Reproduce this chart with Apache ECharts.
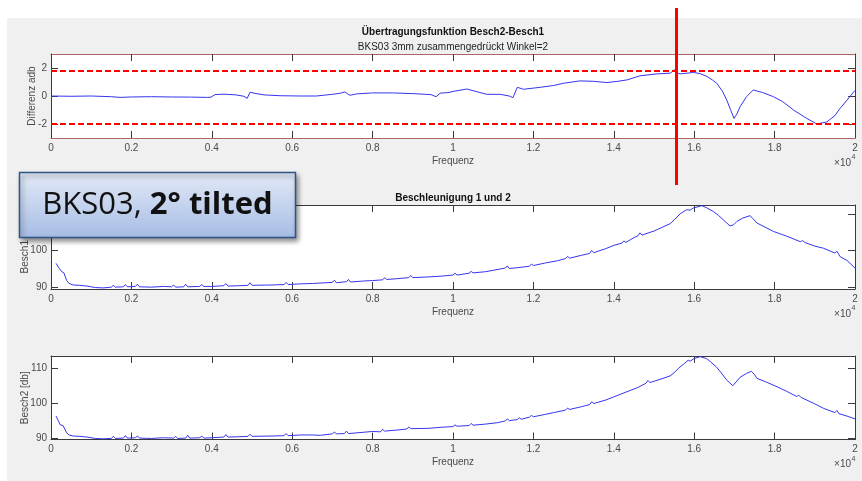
<!DOCTYPE html>
<html><head><meta charset="utf-8">
<script src="https://cdn.jsdelivr.net/npm/echarts@6/dist/echarts.min.js"></script>
<style>
html,body{margin:0;padding:0;background:#fff;}
#wrap{position:relative;width:862px;height:481px;overflow:hidden;}
#bg{position:absolute;left:7px;top:18px;width:855px;height:463px;background:#f0f0f0;}
#chart{position:absolute;left:0;top:0;width:862px;height:481px;}
</style></head><body>
<div id="wrap"><div id="bg"></div><div id="chart"></div></div>
<script>
// ---- tick labels ----
const xTickValues = [0,2000,4000,6000,8000,10000,12000,14000,16000,18000,20000];
const xTickLabels = ['0','0.2','0.4','0.6','0.8','1','1.2','1.4','1.6','1.8','2'];
const diffTicks = [-2,0,2];
const besch1Ticks = [90,100,110];
const besch2Ticks = [90,100,110];
// ---- reference lines ----
const limitLines = [1.8,-2];
const markerFreq = 15560;
// ---- series: [Frequenz, value] ----
const diffData = [[0,0.0],[500,-0.02],[1000,0.0],[1500,-0.05],[1720,-0.1],[2000,-0.07],[2500,-0.05],[3000,-0.07],[3500,-0.08],[3900,-0.1],[3980,-0.08],[4080,0.1],[4300,0.13],[4600,0.08],[4800,-0.02],[4880,-0.17],[4950,0.27],[5050,0.2],[5300,0.08],[5700,0.02],[6200,0.0],[6600,0.0],[7000,0.12],[7200,0.2],[7310,0.29],[7380,0.15],[7440,0.05],[7600,0.15],[8000,0.22],[8500,0.22],[9000,0.17],[9450,0.1],[9580,-0.05],[9680,0.2],[9900,0.25],[10000,0.33],[10350,0.5],[10600,0.3],[10840,0.12],[11170,0.12],[11400,0.0],[11490,-0.12],[11600,0.62],[11750,0.48],[12170,0.62],[12500,0.75],[12750,0.91],[13160,1.08],[13500,1.05],[13830,0.96],[14100,1.05],[14330,1.15],[14650,1.44],[15070,1.58],[15400,1.63],[15520,1.87],[15600,1.62],[15650,1.58],[15980,1.68],[16150,1.6],[16320,1.39],[16450,1.15],[16560,0.91],[16700,0.35],[16810,-0.29],[16900,-0.95],[16990,-1.6],[17060,-1.3],[17140,-0.77],[17300,-0.05],[17470,0.43],[17700,0.25],[17970,-0.05],[18200,-0.4],[18470,-1.0],[18800,-1.6],[19050,-2.0],[19300,-1.85],[19500,-1.4],[19630,-0.88],[19800,-0.3],[20000,0.4]];
const besch1Data = [[125,96.5],[200,95.2],[260,94.3],[320,93.9],[390,91.8],[450,91.0],[550,90.6],[700,90.5],[900,90.3],[1100,89.9],[1300,89.8],[1500,90.0],[1550,90.5],[1600,90.0],[1800,90.1],[1850,90.7],[1900,90.1],[2100,90.2],[2150,90.8],[2200,90.1],[2500,90.0],[2800,90.2],[3000,90.1],[3050,90.6],[3100,90.0],[3300,90.1],[3350,90.8],[3400,90.1],[3700,90.2],[3750,90.7],[3800,90.2],[4000,90.2],[4300,90.4],[4350,91.0],[4400,90.3],[4700,90.4],[4900,90.5],[4950,91.2],[5000,90.5],[5500,90.6],[5800,90.7],[5850,91.3],[5900,90.7],[6200,90.9],[6500,91.0],[7000,91.3],[7050,91.9],[7100,91.2],[7350,91.5],[7400,92.1],[7450,91.4],[7800,91.7],[8000,91.8],[8250,92.0],[8300,92.6],[8350,92.1],[8600,92.3],[8900,92.6],[8950,93.2],[9000,92.6],[9400,92.8],[9700,93.0],[10000,93.3],[10050,93.8],[10100,93.3],[10400,93.8],[10450,94.3],[10500,93.9],[10800,94.2],[11000,94.6],[11300,95.2],[11350,95.8],[11400,95.1],[11600,95.3],[11900,95.7],[11950,96.3],[12000,95.9],[12300,96.6],[12600,97.2],[12800,97.8],[12850,98.4],[12900,97.9],[13200,98.7],[13400,99.2],[13450,100.0],[13500,99.4],[13800,100.5],[14000,101.4],[14200,102.0],[14250,102.6],[14300,102.2],[14500,103.5],[14600,104.0],[14650,104.8],[14700,104.2],[15000,105.3],[15400,107.3],[15500,108.3],[15650,110.0],[15810,111.1],[15900,111.0],[15980,111.6],[16190,112.2],[16300,111.7],[16480,110.6],[16600,109.6],[16720,108.4],[16890,106.7],[16980,107.0],[17060,107.9],[17200,108.8],[17390,109.5],[17450,108.8],[17560,107.5],[17970,105.2],[18300,103.9],[18640,102.4],[18700,102.7],[18750,102.2],[19000,101.2],[19220,100.6],[19500,99.3],[19550,99.8],[19630,98.3],[19800,97.3],[20000,95.2]];
const besch2Data = [[125,96.3],[180,95.0],[230,93.8],[300,93.6],[330,93.4],[390,91.5],[450,90.9],[550,90.6],[700,90.5],[900,90.3],[1100,89.9],[1300,89.8],[1500,89.9],[1550,90.5],[1600,89.9],[1800,90.0],[1850,90.7],[1900,90.0],[2100,90.1],[2150,90.6],[2200,90.0],[2500,89.9],[2800,90.1],[3050,90.0],[3100,90.5],[3150,89.9],[3350,90.0],[3400,90.8],[3450,90.0],[3700,90.1],[3750,90.6],[3800,90.0],[4000,90.1],[4300,90.3],[4350,91.0],[4400,90.3],[4700,90.4],[4900,90.5],[4950,91.1],[5000,90.5],[5500,90.6],[5800,90.7],[5850,91.3],[5900,90.7],[6200,90.9],[6500,90.9],[6700,90.8],[7000,91.2],[7050,91.8],[7100,91.2],[7300,91.3],[7350,92.0],[7400,91.3],[7800,91.7],[8000,91.9],[8200,91.8],[8250,92.5],[8300,92.0],[8600,92.3],[8850,92.6],[8900,93.2],[8950,92.7],[9400,92.8],[9700,93.1],[10000,93.3],[10050,93.8],[10100,93.4],[10400,93.6],[10450,94.2],[10500,93.7],[10800,94.0],[11100,94.4],[11300,94.9],[11350,95.5],[11400,95.0],[11600,95.3],[11650,95.8],[11700,95.4],[11900,96.0],[11950,96.5],[12000,96.1],[12300,96.8],[12500,97.3],[12800,98.0],[12850,98.6],[12900,98.2],[13200,99.0],[13400,99.6],[13450,100.4],[13500,99.9],[13800,100.9],[14000,101.8],[14200,102.7],[14400,103.6],[14600,104.5],[14800,105.7],[14850,106.5],[14900,105.9],[15200,107.0],[15400,107.8],[15500,108.7],[15610,110.0],[15750,111.3],[15850,112.3],[15900,112.0],[16000,112.8],[16150,113.3],[16300,112.8],[16400,111.9],[16550,110.4],[16650,109.0],[16810,106.6],[16960,105.0],[17060,106.3],[17140,107.4],[17300,108.5],[17420,109.1],[17500,108.2],[17560,107.1],[17800,106.0],[18060,104.7],[18300,103.4],[18550,101.9],[18600,102.3],[18650,101.7],[19000,99.8],[19220,98.5],[19500,97.3],[19550,97.9],[19600,97.0],[19800,96.3],[20000,95.5]];

const FONT = '"Liberation Sans", Arial, Helvetica, sans-serif';
const AX = '#3a3a3a', LBL = '#4a4a4a', LINE = '#3535ee';
const grids = [
  {left:51, top:54, width:804, height:84},
  {left:51, top:205, width:804, height:84},
  {left:51, top:356, width:804, height:83.5}
];
function mkX(gi, pos, lineColor){
  const bottom = pos === 'bottom';
  return {type:'value', gridIndex:gi, position:pos, min:0, max:20000, interval:2000,
    axisLine:{show:true, onZero:false, lineStyle:{color:lineColor, width:1}},
    axisTick:{show:true, inside:true, length:7, lineStyle:{color:AX}},
    axisLabel: bottom ? {show:true, margin:5, color:LBL, fontSize:10, fontFamily:FONT,
      formatter: v => xTickLabels[xTickValues.indexOf(v)]} : {show:false},
    splitLine:{show:false},
    name: bottom ? 'Frequenz' : '', nameLocation:'middle', nameGap:18, nameMoveOverlap:false,
    nameTextStyle:{color:LBL, fontSize:10, fontFamily:FONT}};
}
function mkY(gi, pos, min, max, ticks, name, gap){
  const left = pos === 'left';
  return {type:'value', gridIndex:gi, position:pos, min:min, max:max,
    axisLine:{show:true, onZero:false, lineStyle:{color:AX, width:1}},
    axisTick:{show:true, inside:true, length:7, customValues:ticks, lineStyle:{color:AX}},
    axisLabel: left ? {show:true, margin:4, customValues:ticks, color:LBL, fontSize:10, fontFamily:FONT} : {show:false},
    splitLine:{show:false},
    name: left ? name : '', nameLocation:'middle', nameGap:gap, nameRotate:90, nameMoveOverlap:false,
    nameTextStyle:{color:LBL, fontSize:10, fontFamily:FONT}};
}
const chart = echarts.init(document.getElementById('chart'), null, {renderer:'canvas'});
chart.setOption({
  animation:false,
  backgroundColor:'transparent',
  grid: grids.map(g => Object.assign({show:true, backgroundColor:'#ffffff', borderWidth:0, containLabel:false}, g)),
  xAxis:[mkX(0,'bottom','#b06464'), mkX(0,'top','#b06464'), mkX(1,'bottom',AX), mkX(1,'top',AX), mkX(2,'bottom',AX), mkX(2,'top',AX)],
  yAxis:[mkY(0,'left',-3,3,diffTicks,'Differenz adb',13.5), mkY(0,'right',-3,3,diffTicks,'',0),
         mkY(1,'left',89.5,112.4,besch1Ticks,'Besch1 [db]',20.5), mkY(1,'right',89.5,112.4,besch1Ticks,'',0),
         mkY(2,'left',89.6,113.5,besch2Ticks,'Besch2 [db]',20.5), mkY(2,'right',89.6,113.5,besch2Ticks,'',0)],
  series:[
    {type:'line', xAxisIndex:0, yAxisIndex:0, data:diffData, showSymbol:false, symbol:'none',
     lineStyle:{color:LINE, width:1}, z:3,
     markLine:{silent:true, symbol:'none', label:{show:false}, animation:false,
       lineStyle:{color:'#ff0000', width:2, type:[6,3]},
       data: limitLines.map(v => ({yAxis:v}))}},
    {type:'line', xAxisIndex:2, yAxisIndex:2, data:besch1Data, showSymbol:false, symbol:'none',
     lineStyle:{color:LINE, width:1}},
    {type:'line', xAxisIndex:4, yAxisIndex:4, data:besch2Data, showSymbol:false, symbol:'none',
     lineStyle:{color:LINE, width:1}}
  ]
});
function txt(text, x, y, opt){
  return Object.assign({type:'text', x:x, y:y, z:60, silent:true,
    style:Object.assign({text:text, fill:'#1a1a1a', font:'10px '+FONT,
      align:'center', verticalAlign:'middle', textAlign:'center', textVerticalAlign:'middle'}, opt||{})});
}
const mx = chart.convertToPixel({xAxisIndex:0}, markerFreq);
const gfx = [];
gfx.push(txt('Übertragungsfunktion Besch2-Besch1', 453, 32, {font:'bold 10px '+FONT, fill:'#111'}));
gfx.push(txt('BKS03 3mm zusammengedrückt Winkel=2', 453, 47, {fill:'#222'}));
gfx.push(txt('Beschleunigung 1 und 2', 453, 198, {font:'bold 10px '+FONT, fill:'#111'}));
grids.forEach(g => {
  const by = g.top + g.height;
  gfx.push(txt('×10', 851, by + 25, {fill:LBL, align:'right', textAlign:'right'}));
  gfx.push(txt('4', 851.5, by + 19.5, {fill:LBL, font:'7px '+FONT, align:'left', textAlign:'left'}));
});
gfx.push({type:'line', z:80, silent:true, shape:{x1:mx, y1:8, x2:mx, y2:185}, style:{stroke:'#ff0000', lineWidth:3}});
gfx.push({type:'rect', z:90, silent:true, shape:{x:19.5, y:172.5, width:276, height:65},
  style:{fill:new echarts.graphic.LinearGradient(0,0,0,1,[{offset:0,color:'#e3eaf7'},{offset:1,color:'#a6bce4'}]),
    stroke:'#2f5487', lineWidth:1.5, shadowBlur:5, shadowOffsetX:2, shadowOffsetY:3, shadowColor:'rgba(0,0,0,0.45)'}});
gfx.push({type:'text', z:95, silent:true, x:157.5, y:205,
  style:{text:'{a|BKS03, }{b|2° tilted}', align:'center', verticalAlign:'middle', textAlign:'center', textVerticalAlign:'middle',
    rich:{a:{fontFamily:'"Open Sans", sans-serif', fontSize:31, fill:'#111', color:'#111'},
          b:{fontFamily:'"Open Sans", sans-serif', fontSize:31, fontWeight:'bold', fill:'#111', color:'#111'}}}});
chart.setOption({graphic:{elements:gfx}});
</script>
</body></html>
